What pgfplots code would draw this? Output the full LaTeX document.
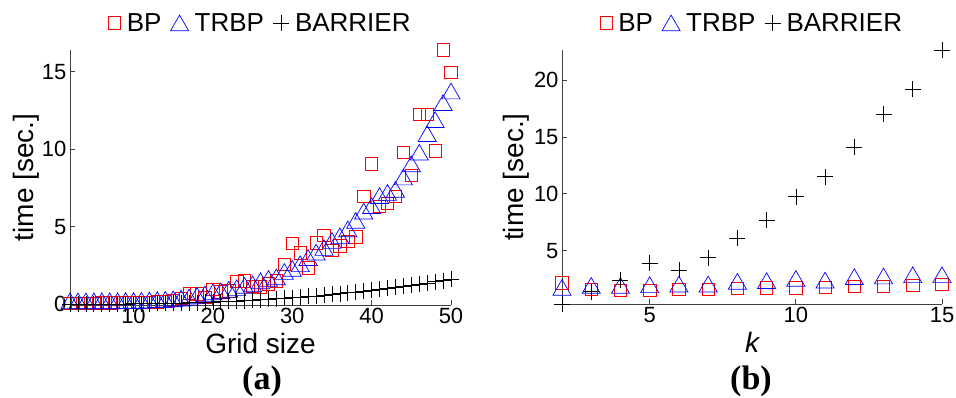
\documentclass[border=0pt]{standalone}
\usepackage{fontspec}
\setmainfont{Liberation Sans}
\newfontfamily\timesfont{Liberation Serif}
\usepackage{pgfplots}
\usepackage{pgfplotstable}
\pgfplotsset{compat=1.18}

\pgfplotstableread{
x bp trbp bar
2 0.05 0.20 0.00
3 0.05 0.20 0.00
4 0.05 0.20 0.00
5 0.06 0.20 0.00
6 0.07 0.21 0.00
7 0.08 0.21 0.01
8 0.10 0.21 0.01
9 0.12 0.22 0.01
10 0.13 0.22 0.02
11 0.10 0.24 0.02
12 0.12 0.26 0.03
13 0.15 0.28 0.04
14 0.18 0.30 0.05
15 0.25 0.33 0.06
16 0.35 0.38 0.07
17 0.70 0.45 0.09
18 0.65 0.55 0.10
19 0.45 0.65 0.12
20 0.95 0.78 0.14
21 0.80 0.85 0.16
22 0.85 0.95 0.18
23 1.45 1.05 0.20
24 1.50 1.20 0.23
25 1.15 1.30 0.25
26 1.10 1.50 0.28
27 1.30 1.65 0.31
28 1.50 1.75 0.35
29 2.55 2.10 0.38
30 3.90 2.30 0.42
31 3.30 2.60 0.45
32 2.35 3.00 0.49
33 3.95 3.35 0.53
34 4.45 3.65 0.58
35 3.45 4.10 0.63
36 3.75 4.40 0.68
37 4.05 4.85 0.73
38 4.35 5.40 0.78
39 6.95 6.00 0.83
40 9.05 6.35 0.89
41 6.30 7.00 0.95
42 6.50 7.20 1.01
43 6.95 7.40 1.08
44 9.80 8.20 1.15
45 8.30 9.05 1.22
46 12.25 9.80 1.29
47 12.25 11.00 1.36
48 9.90 11.90 1.44
49 16.40 13.00 1.52
50 14.95 13.75 1.60
}\gridtable

\pgfplotstableread{
k bp trbp bar
2 2.17 1.76 0.30
3 1.58 1.93 1.37
4 1.50 1.93 2.40
5 1.50 1.99 3.87
6 1.58 2.05 3.28
7 1.58 2.05 4.37
8 1.67 2.29 6.07
9 1.73 2.35 7.68
10 1.72 2.55 9.74
11 1.76 2.40 11.50
12 1.87 2.70 14.08
13 1.87 2.76 17.00
14 1.93 2.87 19.20
15 2.05 2.87 22.65
}\ktable

\pgfplotsset{
  myax/.style={
    scale only axis,
    clip=false,
    axis x line*=bottom,
    axis y line*=left,
    axis line style={black!75, line width=0.8pt},
    tick style={black!75, line width=0.8pt},
    tick align=inside,
    major tick length=5pt,
    /pgf/number format/assume math mode=true,
    tick label style={font=\fontsize{22}{22}\selectfont},
    label style={font=\fontsize{28}{28}\selectfont},
    xlabel style={at={(axis description cs:0.5,0)}, anchor=center, yshift=-38pt},
    legend style={draw=none, fill=none, at={(0.5,1)}, anchor=center, yshift=27pt,
      font=\fontsize{26}{26}\selectfont, legend columns=-1,
      /tikz/every odd column/.append style={column sep=4pt},
      /tikz/every even column/.append style={column sep=7pt}},
  },
  bpst/.style={only marks, mark=square, mark size=6.2pt, red, line width=0.7pt},
  trst/.style={only marks, mark=triangle, mark size=10.5pt, blue, line width=0.7pt, mark options={yshift=-2.6pt}},
  barst/.style={only marks, mark=+, mark size=8pt, black, line width=0.7pt},
}

\begin{document}
\begin{tikzpicture}[x=1pt,y=1pt]
\useasboundingbox (0,0) rectangle (956,398);

\begin{axis}[myax,
  at={(70pt,93pt)}, anchor=south west,
  width=381pt, height=255pt,
  xmin=2, xmax=50, ymin=-0.06, ymax=16.4,
  xtick={10,20,30,40,50}, ytick={0,5,10,15},
  xlabel={Grid size}, ylabel={time [sec.]},
  ylabel style={at={(axis description cs:-0.115,0.5)}, rotate=0, anchor=center},
]
\addplot[bpst] table[x=x,y=bp] {\gridtable};
\addplot[trst] table[x=x,y=trbp] {\gridtable};
\addplot[barst] table[x=x,y=bar] {\gridtable};
\legend{BP, TRBP, BARRIER}
\end{axis}

\begin{axis}[myax,
  at={(562pt,94pt)}, anchor=south west,
  width=380pt, height=254pt,
  xmin=2, xmax=15, ymin=0.3, ymax=22.65,
  xtick={5,10,15}, ytick={5,10,15,20},
  xlabel={\itshape k}, ylabel={time [sec.]},
  ylabel style={at={(axis description cs:-0.121,0.5)}, rotate=0, anchor=center},
]
\addplot[bpst] table[x=k,y=bp] {\ktable};
\addplot[trst] table[x=k,y=trbp] {\ktable};
\addplot[barst] table[x=k,y=bar] {\ktable};
\legend{BP, TRBP, BARRIER}
\end{axis}

\node[font=\timesfont\bfseries\fontsize{34}{34}\selectfont] at (262,17) {(a)};
\node[font=\timesfont\bfseries\fontsize{34}{34}\selectfont] at (751,17) {(b)};
\end{tikzpicture}
\end{document}
